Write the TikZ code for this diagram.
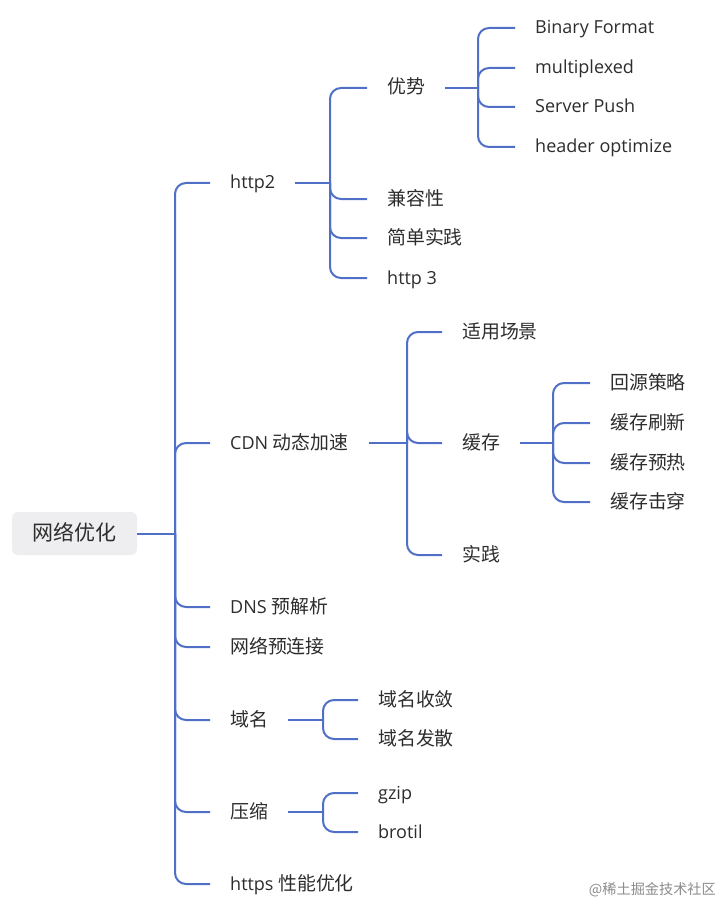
\documentclass[tikz,border=0pt]{standalone}
\usepackage{fontspec}
\setmainfont{Open Sans}
\newfontfamily\cjk[Scale=1.05]{Noto Sans CJK SC}
\definecolor{lin}{RGB}{80,112,200}
\definecolor{txt}{RGB}{45,45,45}
\definecolor{rootfill}{RGB}{238,238,240}
\tikzset{
  lbl/.style={anchor=west, inner sep=0pt, text height=12pt, text depth=0pt, text=txt, font=\fontsize{18}{20}\selectfont},
  stem/.style={draw=lin, line width=2pt},
  conn/.style={draw=lin, line width=2pt, rounded corners=11pt},
  rootbox/.style={fill=rootfill, rounded corners=6pt, inner sep=0pt, minimum width=125pt, minimum height=43pt, text height=14pt, text depth=0pt, text=txt, font=\cjk\fontsize{20}{22}\selectfont},
}
\begin{document}
\begin{tikzpicture}[x=1pt,y=-1pt]
\useasboundingbox[fill=white] (0,0) rectangle (722,904);
% root
\node[rootbox] (root) at (74.5,533.5) {网络优化};
% level 1
\node[lbl] (http2) at (230,183) {http2};
\node[lbl] (cdn) at (230,443) {CDN {\cjk 动态加速}};
\node[lbl] (dns) at (230,607) {DNS {\cjk 预解析}};
\node[lbl] (pre) at (230,647) {\cjk 网络预连接};
\node[lbl] (dom) at (230,720) {\cjk 域名};
\node[lbl] (zip) at (230,812) {\cjk 压缩};
\node[lbl] (https) at (230,884) {https {\cjk 性能优化}};
% http2 children
\node[lbl] (adv) at (387,88) {\cjk 优势};
\node[lbl] (compat) at (387,199) {\cjk 兼容性};
\node[lbl] (simple) at (387,238) {\cjk 简单实践};
\node[lbl] (hthree) at (387,278) {http 3};
% advantages
\node[lbl] (bin) at (535,28) {Binary Format};
\node[lbl] (mux) at (535,68) {multiplexed};
\node[lbl] (push) at (535,107) {Server Push};
\node[lbl] (hdr) at (535,147) {header optimize};
% cdn children
\node[lbl] (scene) at (462,332) {\cjk 适用场景};
\node[lbl] (cache) at (462,443) {\cjk 缓存};
\node[lbl] (prac) at (462,555) {\cjk 实践};
% cache children
\node[lbl] (back) at (610,383) {\cjk 回源策略};
\node[lbl] (refresh) at (610,423) {\cjk 缓存刷新};
\node[lbl] (warm) at (610,463) {\cjk 缓存预热};
\node[lbl] (pierce) at (610,502) {\cjk 缓存击穿};
% domain children
\node[lbl] (conv) at (378,700) {\cjk 域名收敛};
\node[lbl] (div) at (378,739) {\cjk 域名发散};
% compression children
\node[lbl] (gzip) at (378,793) {gzip};
\node[lbl] (brotil) at (378,832) {brotil};
% watermark
\node[anchor=east, inner sep=0pt, text=black!45, font=\cjk\fontsize{13.5}{15}\selectfont] (wm) at (716,890) {@稀土掘金技术社区};
% trunks
\coordinate (t0) at (175,0);
\coordinate (t1) at (330,0);
\coordinate (t2) at (478,0);
\coordinate (t3) at (407,0);
\coordinate (t4) at (553,0);
\coordinate (t5) at (323,0);
% connectors
\draw[stem] (root.east) -- (t0 |- root.east);
\foreach \c in {http2,cdn,dns,pre,dom,zip,https}
  \draw[conn] (t0 |- root.east) -- (t0 |- \c.west) -- ([xshift=-20pt]\c.west);
\draw[stem] ([xshift=20pt]http2.east) -- (t1 |- http2.east);
\foreach \c in {adv,compat,simple,hthree}
  \draw[conn] (t1 |- http2.east) -- (t1 |- \c.west) -- ([xshift=-20pt]\c.west);
\draw[stem] ([xshift=20pt]adv.east) -- (t2 |- adv.east);
\foreach \c in {bin,mux,push,hdr}
  \draw[conn] (t2 |- adv.east) -- (t2 |- \c.west) -- ([xshift=-20pt]\c.west);
\draw[stem] ([xshift=20pt]cdn.east) -- (t3 |- cdn.east);
\foreach \c in {scene,cache,prac}
  \draw[conn] (t3 |- cdn.east) -- (t3 |- \c.west) -- ([xshift=-20pt]\c.west);
\draw[stem] ([xshift=20pt]cache.east) -- (t4 |- cache.east);
\foreach \c in {back,refresh,warm,pierce}
  \draw[conn] (t4 |- cache.east) -- (t4 |- \c.west) -- ([xshift=-20pt]\c.west);
\draw[stem] ([xshift=20pt]dom.east) -- (t5 |- dom.east);
\foreach \c in {conv,div}
  \draw[conn] (t5 |- dom.east) -- (t5 |- \c.west) -- ([xshift=-20pt]\c.west);
\draw[stem] ([xshift=20pt]zip.east) -- (t5 |- zip.east);
\foreach \c in {gzip,brotil}
  \draw[conn] (t5 |- zip.east) -- (t5 |- \c.west) -- ([xshift=-20pt]\c.west);
\end{tikzpicture}
\end{document}
